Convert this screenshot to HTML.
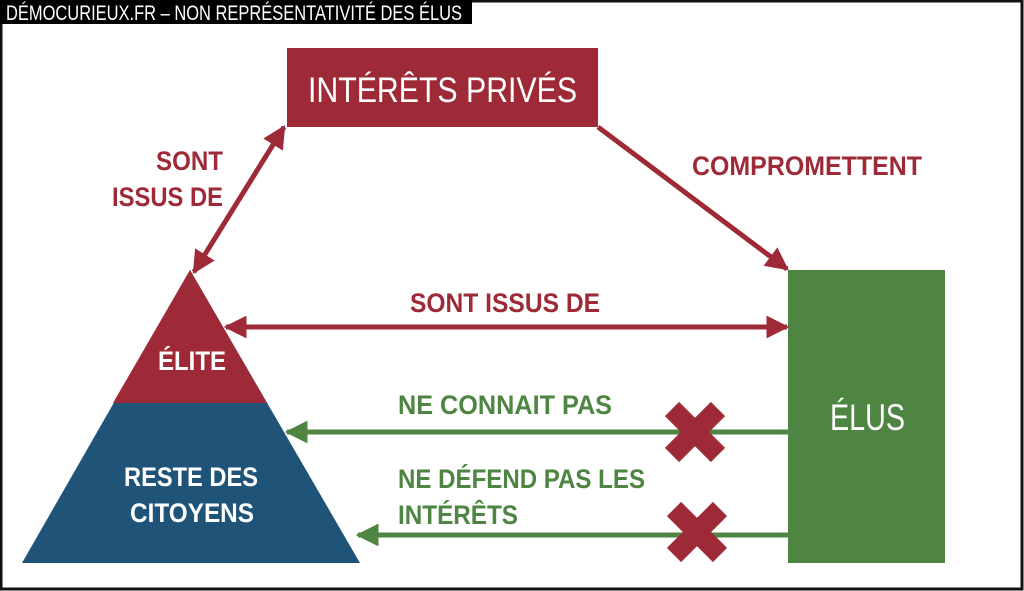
<!DOCTYPE html>
<html><head><meta charset="utf-8"><style>
html,body{margin:0;padding:0;background:#fff}
svg{display:block}
text{font-family:"Liberation Sans Narrow","Liberation Sans",sans-serif}
.b{font-weight:bold}
</style></head><body>
<svg width="1024" height="591" viewBox="0 0 1024 591" xmlns="http://www.w3.org/2000/svg">
<defs>
<marker id="ar" viewBox="0 0 10 10" refX="9" refY="5" markerWidth="4.6" markerHeight="4.6" orient="auto-start-reverse"><path d="M0,0 L10,5 L0,10 Z" fill="#9e2a38"/></marker>
<marker id="ag" viewBox="0 0 10 10" refX="9" refY="5" markerWidth="4.6" markerHeight="4.6" orient="auto-start-reverse"><path d="M0,0 L10,5 L0,10 Z" fill="#4e8542"/></marker>
</defs>
<rect x="1" y="1" width="1021" height="588" fill="#fff" stroke="#111" stroke-width="3"/>
<rect x="0" y="0" width="472" height="24" fill="#000"/>
<text x="6" y="20" fill="#fff" font-size="21" textLength="456" lengthAdjust="spacingAndGlyphs">DÉMOCURIEUX.FR – NON REPRÉSENTATIVITÉ DES ÉLUS</text>

<rect x="287" y="48" width="311" height="79" fill="#9e2a38"/>
<text x="308" y="102" fill="#fff" font-size="35" textLength="269" lengthAdjust="spacingAndGlyphs">INTÉRÊTS PRIVÉS</text>

<polygon points="190,270 360,563 22,563" fill="#1f5478"/>
<polygon points="190,270 267,403 113,403" fill="#9e2a38"/>
<text x="158" y="370" fill="#fff" class="b" font-size="27" textLength="68" lengthAdjust="spacingAndGlyphs">ÉLITE</text>
<text x="124" y="486" fill="#fff" class="b" font-size="27" textLength="134" lengthAdjust="spacingAndGlyphs">RESTE DES</text>
<text x="130" y="522" fill="#fff" class="b" font-size="27" textLength="124" lengthAdjust="spacingAndGlyphs">CITOYENS</text>

<rect x="788" y="270" width="157" height="293" fill="#4e8542"/>
<text x="830" y="430" fill="#fff" font-size="37" textLength="75" lengthAdjust="spacingAndGlyphs">ÉLUS</text>

<line x1="194" y1="272" x2="284" y2="127" stroke="#9e2a38" stroke-width="5" marker-start="url(#ar)" marker-end="url(#ar)"/>
<line x1="598" y1="127" x2="787" y2="269" stroke="#9e2a38" stroke-width="5" marker-end="url(#ar)"/>
<line x1="226" y1="327" x2="787" y2="327" stroke="#9e2a38" stroke-width="5" marker-start="url(#ar)" marker-end="url(#ar)"/>
<line x1="788" y1="432" x2="287" y2="432" stroke="#4e8542" stroke-width="5" marker-end="url(#ag)"/>
<line x1="788" y1="535" x2="358" y2="535" stroke="#4e8542" stroke-width="5" marker-end="url(#ag)"/>

<g stroke="#9e2a38" stroke-width="20">
<line x1="672" y1="409" x2="718" y2="455"/><line x1="718" y1="409" x2="672" y2="455"/>
<line x1="674" y1="509" x2="720" y2="555"/><line x1="720" y1="509" x2="674" y2="555"/>
</g>

<g class="b" font-size="27" fill="#9e2a38">
<text x="156" y="170" textLength="67" lengthAdjust="spacingAndGlyphs">SONT</text>
<text x="112" y="206" textLength="111" lengthAdjust="spacingAndGlyphs">ISSUS DE</text>
<text x="692" y="175" textLength="230" lengthAdjust="spacingAndGlyphs">COMPROMETTENT</text>
<text x="410" y="312" textLength="190" lengthAdjust="spacingAndGlyphs">SONT ISSUS DE</text>
</g>
<g class="b" font-size="27" fill="#4e8542">
<text x="398" y="414" textLength="214" lengthAdjust="spacingAndGlyphs">NE CONNAIT PAS</text>
<text x="398" y="488" textLength="247" lengthAdjust="spacingAndGlyphs">NE DÉFEND PAS LES</text>
<text x="398" y="524" textLength="120" lengthAdjust="spacingAndGlyphs">INTÉRÊTS</text>
</g>
</svg>
</body></html>
